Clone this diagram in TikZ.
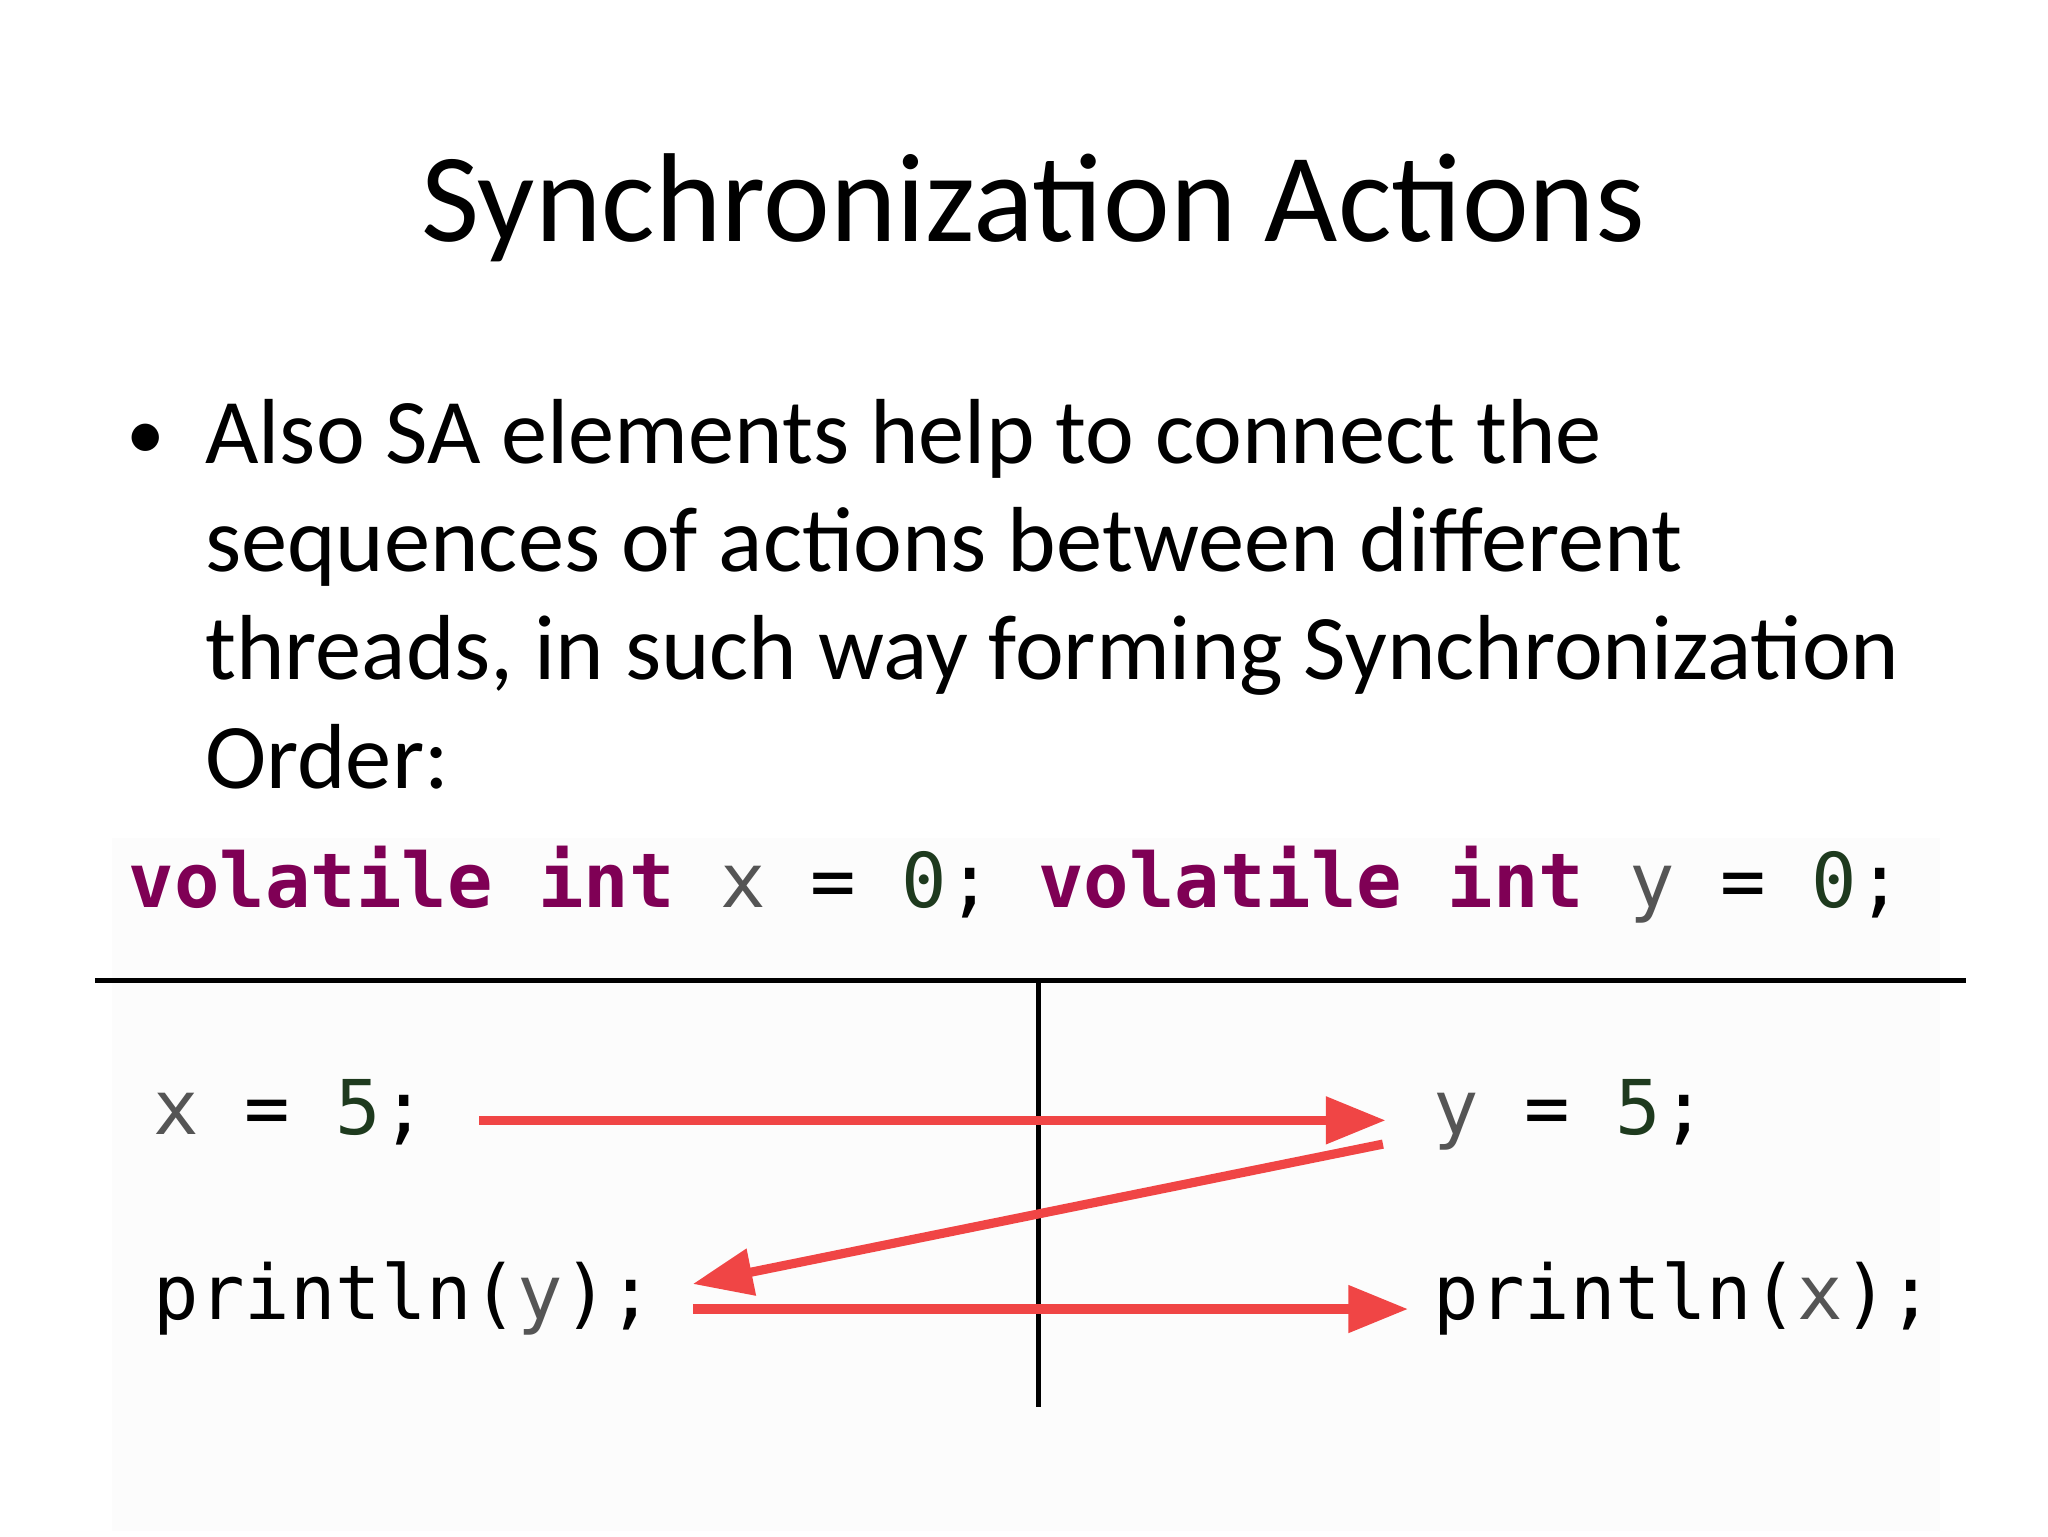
\documentclass[tikz,border=0pt]{standalone}
\usepackage{fontspec}
\setmainfont{Carlito}
\setmonofont{DejaVu Sans Mono}
\usetikzlibrary{arrows.meta}
\definecolor{kw}{HTML}{7F0055}
\definecolor{num}{HTML}{1E3A1E}
\definecolor{var}{HTML}{555555}
\definecolor{arr}{HTML}{F04545}
\begin{document}
\begin{tikzpicture}[x=0.013196cm,y=-0.013196cm,
  code/.style={anchor=base west,inner sep=0pt,font=\ttfamily\fontsize{21.5}{26}\selectfont},
  redarr/.style={draw=arr,line width=2.6pt,-{Triangle[length=17pt,width=13pt]}}]
\useasboundingbox (0,0) rectangle (1552,1164);
\fill[gray!2] (85,635) rectangle (1470,1160);
\node[anchor=base,inner sep=0pt,font=\fontsize{36}{44}\selectfont] (title) at (783,183) {Synchronization Actions};
\node[anchor=base west,inner sep=0pt,font=\fontsize{22}{30}\selectfont] (bul) at (95,348) {\textbullet};
\node[anchor=north west,inner sep=0pt,align=left,font=\fontsize{26.3}{30.8}\selectfont] (body) at (155,302)
 {Also SA elements help to connect the\\sequences of actions between different\\threads, in such way forming Synchronization\\Order:};
\node[code] (decl) at (97,688) {\textbf{\color{kw}volatile} \textbf{\color{kw}int} \color{var}x \color{black}= \color{num}0\color{black}; \textbf{\color{kw}volatile} \textbf{\color{kw}int} \color{var}y \color{black}= \color{num}0\color{black};};
\coordinate (h1) at (72,743); \coordinate (h2) at (1490,743);
\coordinate (v1) at (787,743); \coordinate (v2) at (787,1066);
\draw[line width=1.4pt] (h1) -- (h2);
\draw[line width=1.4pt] (v1) -- (v2);
\node[code] (a) at (116,860) {\color{var}x \color{black}= \color{num}5\color{black};};
\node[code] (b) at (116,1000) {println(\color{var}y\color{black});};
\node[code] (c) at (1086,860) {\color{var}y \color{black}= \color{num}5\color{black};};
\node[code] (d) at (1086,1000) {println(\color{var}x\color{black});};
\coordinate (a1) at (363,849); \coordinate (a2) at (1050,849);
\coordinate (b1) at (1048,867); \coordinate (b2) at (525,973);
\coordinate (c1) at (525,992); \coordinate (c2) at (1067,992);
\draw[redarr] (a1) -- (a2);
\draw[redarr] (b1) -- (b2);
\draw[redarr] (c1) -- (c2);
\end{tikzpicture}
\end{document}
